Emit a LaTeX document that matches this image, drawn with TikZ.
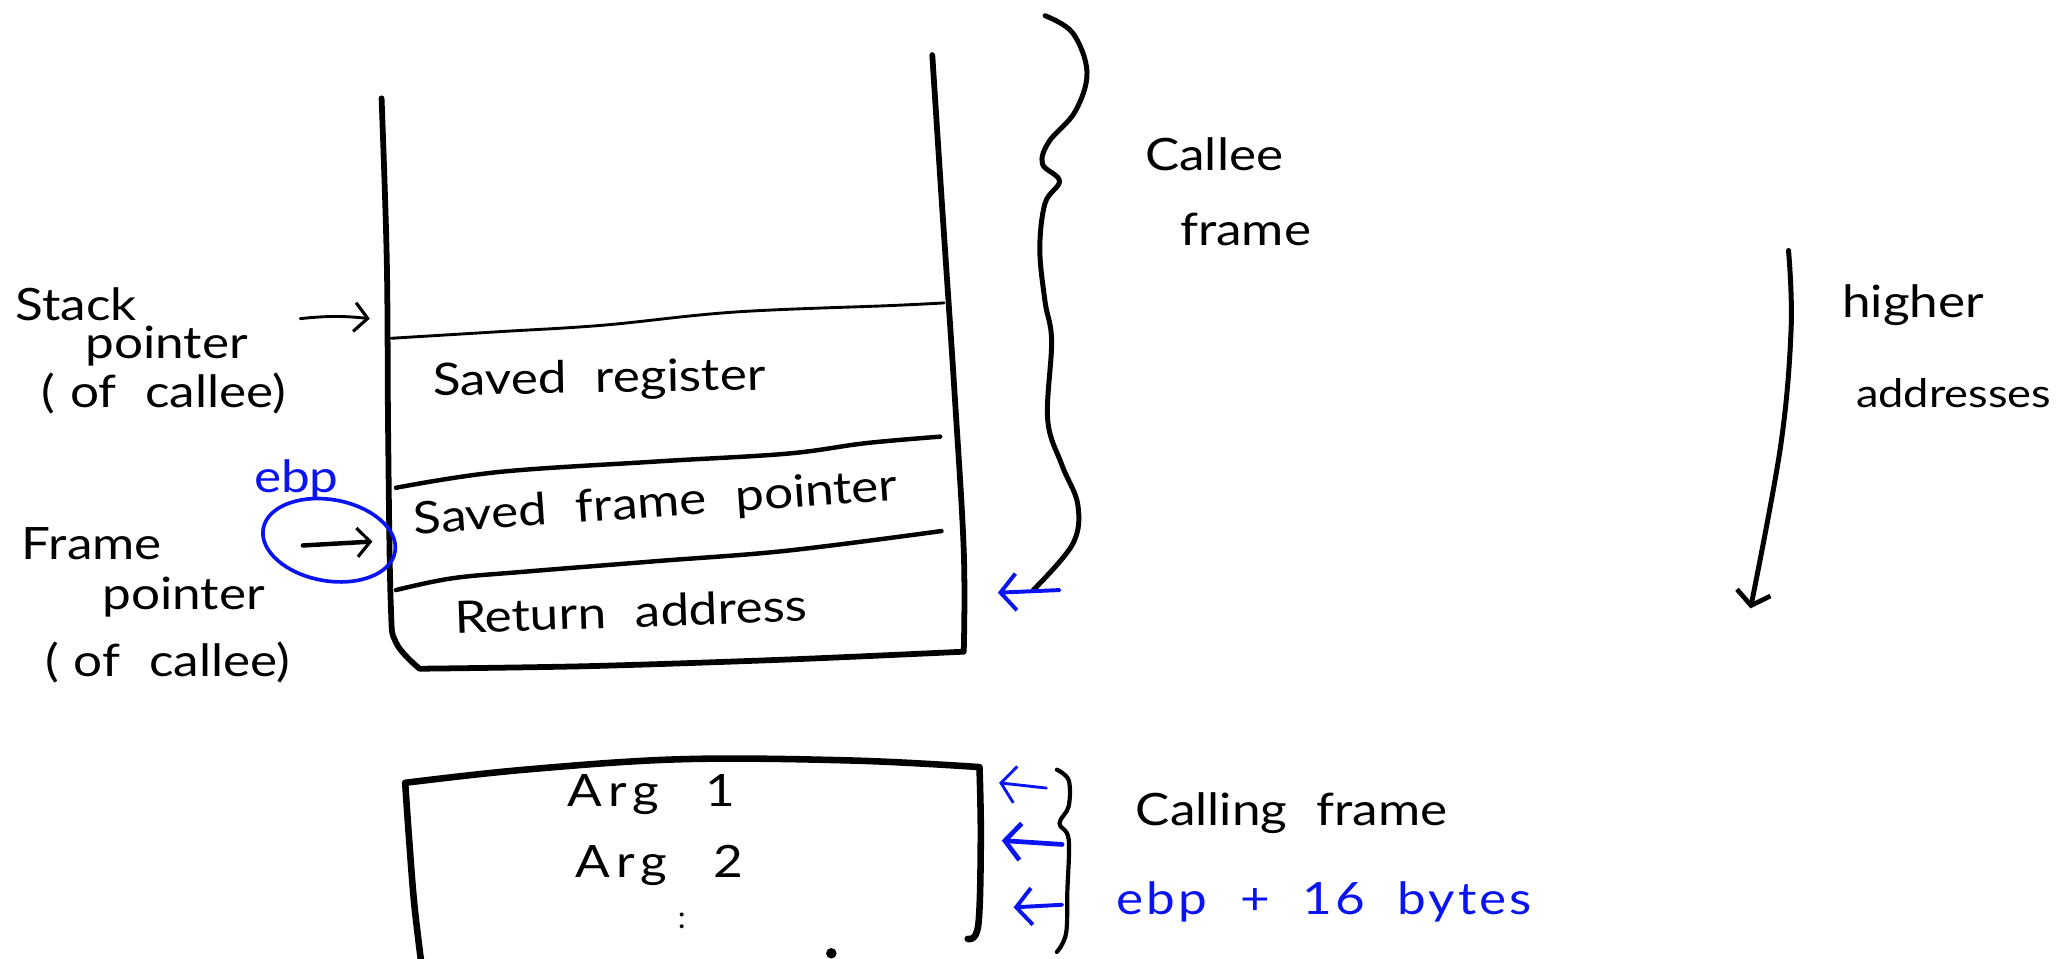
\documentclass[tikz,border=0pt]{standalone}
\usepackage{fontspec}
\setmainfont{Lato}
\newfontfamily\hand{Lato}[FakeStretch=1.15,WordSpace=2.2]
\newfontfamily\handsp{Lato}[FakeStretch=1.15,WordSpace=2.4,LetterSpace=14]
\newfontfamily\handmid{Lato}[FakeStretch=1.15,WordSpace=2.0,LetterSpace=7]
\usetikzlibrary{arrows.meta}
\definecolor{pen}{RGB}{10,20,240}
\begin{document}
\begin{tikzpicture}[x=1pt,y=-1pt,line cap=round,line join=round,
  heavy/.style={line width=4.4pt},
  medium/.style={line width=3.4pt},
  light/.style={line width=2.2pt},
  hw/.style={font=\hand\fontsize{34}{40}\selectfont,inner sep=0pt},
  hwsp/.style={font=\handsp\fontsize{34}{40}\selectfont,inner sep=0pt},
  hwb/.style={hw,text=pen},
  barb/.style={-{Straight Barb[length=10pt,width=22pt,line width=2.4pt]}},
  bluebarb/.style={pen,line width=3pt,-{Straight Barb[length=12pt,width=28pt]}}]
\useasboundingbox (0,0) rectangle (1568,731);

% ---------- stack box (callee frame) ----------
\draw[heavy] plot[smooth,tension=0.6] coordinates {(291,75) (295,200) (296,330) (298,460) (302,490) (320,510)}
  -- plot[smooth,tension=0.5] coordinates {(320,510) (450,508) (600,503) (735,497)}
  -- plot[smooth,tension=0.6] coordinates {(735,497) (735,420) (728,300) (718,150) (711,42)};
\draw[light] plot[smooth,tension=0.6] coordinates {(298,258) (380,253) (460,248) (560,238) (680,233) (720,231)};
\draw[medium] plot[smooth,tension=0.6] coordinates {(302,372) (380,360) (500,352) (600,346) (660,338) (717,333)};
\draw[medium] plot[smooth,tension=0.6] coordinates {(302,450) (345,441) (400,436) (500,428) (600,420) (718,405)};

\node[hw,rotate=1] (sreg) at (457,290) {Saved register};
\node[hw,rotate=4] (sfp)  at (500,385) {Saved frame pointer};
\node[hw,rotate=2] (ret)  at (481,466) {Return address};

% ---------- left labels ----------
\node[hw] (stack) at (58,232) {Stack};
\node[hw] (sptr)  at (127,264) {pointer};
\node[hw] (sof)   at (125,300) {(\,\,of callee)};
\coordinate (spA) at (229,243);
\coordinate (spB) at (282,243);
\draw[light,barb] (spA) to[bend left=6] (spB);

\node[hwb] (ebp) at (226,366) {ebp};
\draw[pen,line width=2.8pt,rotate around={-10:(251,412)}] (251,412) ellipse [x radius=51,y radius=31];
\coordinate (fpA) at (231,416);
\coordinate (fpB) at (284,413);
\draw[medium,barb] (fpA) -- (fpB);

\node[hw] (frame) at (70,415) {Frame};
\node[hw] (fptr)  at (140,455) {pointer};
\node[hw] (fof)   at (128,505) {(\,\,of callee)};

% ---------- callee brace ----------
\draw[line width=3.8pt] plot[smooth,tension=0.6] coordinates {(797,12) (818,25) (829,55) (820,85) (800,108) (795,125) (808,138) (797,155) (793,190) (797,230) (802,260) (799,320) (810,355) (822,385) (818,415) (788,450)};
\node[hw] (callee) at (926,118) {Callee};
\node[hw] (cframe) at (950,175) {frame};
\coordinate (cbA) at (808,450);
\coordinate (cbB) at (761,452);
\draw[bluebarb] (cbA) -- (cbB);

% ---------- higher addresses ----------
\coordinate (haA) at (1364,191);
\coordinate (haB) at (1335,464);
\draw[line width=3.8pt,-{Straight Barb[length=10pt,width=26pt,line width=3.6pt]}] plot[smooth,tension=0.6] coordinates {(haA) (1366,250) (1358,340) (haB)};
\node[hw] (higher) at (1459,233) {higher};
\node[hw,font=\hand\fontsize{30}{36}\selectfont] (addr) at (1490,300) {addresses};

% ---------- calling frame box ----------
\draw[heavy,line width=5pt] plot[smooth,tension=0.6] coordinates {(322,740) (316,690) (312,640) (309,597)}
  -- plot[smooth,tension=0.6] coordinates {(309,597) (400,587) (520,579) (650,580) (747,585)}
  -- plot[smooth,tension=0.6] coordinates {(747,585) (748,640) (746,706) (738,716)};
\node[hwsp] (arg1) at (497,606) {Arg 1};
\node[hwsp] (arg2) at (503,660) {Arg 2};
\node[hw,font=\fontsize{24}{28}\selectfont] (dots) at (520,702) {:};
\fill (634,727) circle (4);

\coordinate (a1A) at (798,601);
\coordinate (a1B) at (762,597);
\coordinate (a2A) at (810,644);
\coordinate (a2B) at (764,641);
\coordinate (a3A) at (810,690);
\coordinate (a3B) at (773,692);
\draw[pen,line width=2.2pt,-{Straight Barb[length=11pt,width=28pt]}] (a1A) -- (a1B);
\draw[bluebarb,line width=3.6pt] (a2A) -- (a2B);
\draw[bluebarb] (a3A) -- (a3B);

\draw[line width=3.2pt] plot[smooth,tension=0.6] coordinates {(806,587) (815,595) (815,615) (808,628) (815,640) (814,680) (813,712) (806,726)};
\node[hw] (calling) at (985,620) {Calling frame};
\node[font=\handmid\fontsize{34}{40}\selectfont,inner sep=0pt,text=pen] (ebp16) at (1010,688) {ebp + 16 bytes};
\end{tikzpicture}
\end{document}
